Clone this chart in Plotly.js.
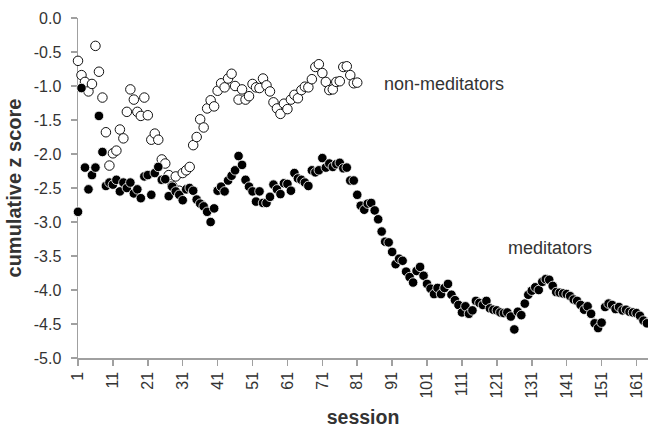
<!DOCTYPE html>
<html><head><meta charset="utf-8">
<script src="https://cdn.plot.ly/plotly-3.0.1.min.js"></script>
<style>html,body{margin:0;padding:0;background:#fff;} #chart{width:648px;height:435px;}</style>
</head><body><div id="chart"></div>
<script>
// cumulative z score per session (session = index + 1)
const meditators = [
 -2.85,-1.03,-2.20,-2.52,-2.31,-2.20,-1.44,-1.97,-2.47,-2.42,
 -2.45,-2.38,-2.55,-2.42,-2.50,-2.42,-2.58,-2.52,-2.65,-2.33,
 -2.31,-2.60,-2.28,-2.19,-2.38,-2.37,-2.62,-2.48,-2.55,-2.60,
 -2.68,-2.52,-2.50,-2.54,-2.67,-2.73,-2.77,-2.85,-3.00,-2.80,
 -2.54,-2.48,-2.55,-2.39,-2.32,-2.24,-2.03,-2.16,-2.38,-2.48,
 -2.55,-2.70,-2.55,-2.72,-2.72,-2.63,-2.45,-2.52,-2.59,-2.43,
 -2.44,-2.54,-2.28,-2.36,-2.38,-2.42,-2.47,-2.24,-2.27,-2.24,
 -2.06,-2.20,-2.14,-2.19,-2.15,-2.13,-2.21,-2.20,-2.39,-2.39,
 -2.60,-2.76,-2.82,-2.73,-2.72,-2.83,-2.96,-3.14,-3.29,-3.30,
 -3.44,-3.62,-3.54,-3.57,-3.73,-3.81,-3.89,-3.72,-3.66,-3.79,
 -3.91,-3.98,-4.06,-3.97,-4.06,-3.97,-3.91,-4.07,-4.15,-4.22,
 -4.33,-4.24,-4.35,-4.30,-4.16,-4.19,-4.22,-4.16,-4.27,-4.29,
 -4.30,-4.33,-4.34,-4.33,-4.39,-4.58,-4.32,-4.37,-4.20,-4.07,
 -4.01,-3.96,-4.00,-3.88,-3.84,-3.85,-3.94,-4.03,-4.04,-4.05,
 -4.06,-4.09,-4.14,-4.16,-4.22,-4.29,-4.24,-4.35,-4.49,-4.56,
 -4.48,-4.25,-4.20,-4.22,-4.28,-4.25,-4.30,-4.29,-4.32,-4.33,
 -4.34,-4.38,-4.45,-4.49
];
const nonMeditators = [
 -0.63,-0.84,-0.94,-1.08,-0.97,-0.41,-0.79,-1.17,-1.68,-2.17,
 -1.99,-1.95,-1.64,-1.77,-1.38,-1.05,-1.20,-1.38,-1.44,-1.17,
 -1.43,-1.79,-1.70,-1.79,-2.08,-2.14,-2.31,-2.47,-2.33,-2.54,
 -2.28,-2.24,-2.19,-1.87,-1.75,-1.49,-1.61,-1.33,-1.21,-1.30,
 -1.07,-0.96,-1.02,-0.89,-0.82,-1.00,-1.20,-1.05,-1.20,-1.15,
 -0.97,-1.02,-1.03,-0.89,-0.99,-1.08,-1.24,-1.33,-1.41,-1.26,
 -1.34,-1.20,-1.13,-1.18,-1.06,-1.01,-1.02,-0.90,-0.72,-0.68,
 -0.81,-0.94,-1.06,-1.05,-0.94,-0.93,-0.72,-0.71,-0.84,-0.96,
 -0.95
];
const seriesNames = ["meditators", "non-meditators"];
const xTickVals = [1,11,21,31,41,51,61,71,81,91,101,111,121,131,141,151,161];
const yTickVals = [0,-0.5,-1,-1.5,-2,-2.5,-3,-3.5,-4,-4.5,-5];
const yTickText = ["0.0","-0.5","-1.0","-1.5","-2.0","-2.5","-3.0","-3.5","-4.0","-4.5","-5.0"];
const xTitle = "session";
const yTitle = "cumulative z score";

const sessionsMed = meditators.map((_, i) => i + 1);
const sessionsNon = nonMeditators.map((_, i) => i + 1);

const FONT = "'Liberation Sans', Arial, sans-serif";
const traces = [
  {x: sessionsNon, y: nonMeditators, name: seriesNames[1], type: 'scatter', mode: 'markers', cliponaxis: false,
   marker: {symbol: 'circle', size: 9.5, color: '#ffffff', line: {color: '#111111', width: 1}}},
  {x: sessionsMed, y: meditators, name: seriesNames[0], type: 'scatter', mode: 'markers', cliponaxis: false,
   marker: {symbol: 'circle', size: 9.5, color: '#000000', line: {color: '#ffffff', width: 0.8}}}
];
const layout = {
  width: 648, height: 435,
  margin: {l: 78, r: 0, t: 18, b: 77},
  paper_bgcolor: '#ffffff', plot_bgcolor: '#ffffff',
  showlegend: false,
  font: {family: FONT, color: '#333333', size: 16},
  xaxis: {
    range: [1, 164.3], showgrid: false, zeroline: false,
    showline: true, linecolor: '#a0a0a0', linewidth: 1.5, layer: 'below traces',
    ticks: 'outside', ticklen: 6, tickcolor: '#a0a0a0', tickwidth: 1.5,
    tickvals: xTickVals, ticktext: xTickVals.map(String), tickangle: -90,
    tickfont: {family: FONT, size: 16, color: '#333333'},
    title: {text: xTitle, font: {family: FONT, size: 19.5, color: '#333333', weight: 'bold'}, standoff: 12}
  },
  yaxis: {
    range: [-5, 0], showgrid: false, zeroline: false,
    showline: true, linecolor: '#a0a0a0', linewidth: 1.5, layer: 'below traces',
    ticks: 'outside', ticklen: 6, tickcolor: '#a0a0a0', tickwidth: 1.5,
    tickvals: yTickVals, ticktext: yTickText, ticklabelstandoff: 6,
    tickfont: {family: FONT, size: 16, color: '#333333'},
    title: {text: yTitle, font: {family: FONT, size: 20, color: '#333333', weight: 'bold'}, standoff: 6}
  },
  annotations: [
    {x: 88.1, y: -0.97, xref: 'x', yref: 'y', text: seriesNames[1], showarrow: false, xanchor: 'left', yanchor: 'middle',
     font: {family: FONT, size: 18, color: '#333333'}},
    {x: 123.6, y: -3.38, xref: 'x', yref: 'y', text: seriesNames[0], showarrow: false, xanchor: 'left', yanchor: 'middle',
     font: {family: FONT, size: 18, color: '#333333'}}
  ]
};
Plotly.newPlot('chart', traces, layout, {staticPlot: true, displayModeBar: false});
</script>
</body></html>
